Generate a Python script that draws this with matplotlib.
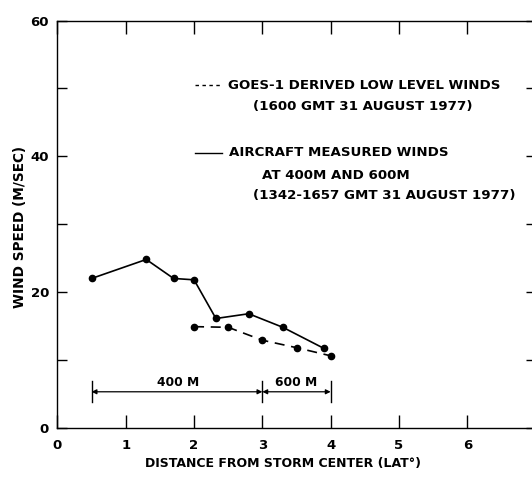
import matplotlib
matplotlib.use("Agg")
import matplotlib.pyplot as plt

# Data
goes_x = [2.0, 2.5, 3.0, 3.5, 4.0]
goes_y = [14.9, 14.8, 12.9, 11.8, 10.6]
air_x = [0.5, 1.3, 1.7, 2.0, 2.32, 2.8, 3.3, 3.9]
air_y = [22.0, 24.8, 22.0, 21.8, 16.1, 16.8, 14.8, 11.7]
x_ticks = [0, 1, 2, 3, 4, 5, 6, 7]
y_major = [0, 20, 40, 60]
y_minor = [10, 30, 50]
seg400 = [0.5, 3.0]
seg600 = [3.0, 4.0]

plt.rcParams['font.family'] = ['DejaVu Sans']
plt.rcParams['font.weight'] = 'bold'

fig = plt.figure(figsize=(5.32, 4.79), dpi=100)
ax = fig.add_axes([0.108, 0.107, 0.8987, 0.850])
ax.set_xlim(0, 7)
ax.set_ylim(0, 60)

ax.plot(air_x, air_y, color='black', lw=1.2, marker='o', ms=4.5, clip_on=False)
ax.plot(goes_x, goes_y, color='black', lw=1.2, ls=(0, (6, 4)), marker='o', ms=4.5, clip_on=False)

# range bars
ybar = 5.3
for seg in (seg400, seg600):
    ax.annotate('', xy=(seg[0], ybar), xytext=(seg[1], ybar),
                arrowprops=dict(arrowstyle='<|-|>', color='black', lw=0.9,
                                mutation_scale=7, shrinkA=0, shrinkB=0))
for xv in (seg400[0], seg400[1], seg600[1]):
    ax.plot([xv, xv], [3.8, 6.9], color='black', lw=1.0)
ax.text(1.76, 6.6, '400 M', ha='center', va='center', fontsize=8.8, fontweight='bold')
ax.text(3.49, 6.6, '600 M', ha='center', va='center', fontsize=8.8, fontweight='bold')

# legend text
fs = 9.6
ax.plot([2.01, 2.41], [50.5, 50.5], color='black', lw=1.0, ls=(0, (2.5, 2.5)))
ax.text(2.50, 50.5, 'GOES-1 DERIVED LOW LEVEL WINDS', ha='left', va='center', fontsize=fs, fontweight='bold')
ax.text(2.86, 47.3, '(1600 GMT 31 AUGUST 1977)', ha='left', va='center', fontsize=fs, fontweight='bold')
ax.plot([2.01, 2.41], [40.5, 40.5], color='black', lw=1.0)
ax.text(2.51, 40.5, 'AIRCRAFT MEASURED WINDS', ha='left', va='center', fontsize=fs, fontweight='bold')
ax.text(2.99, 37.1, 'AT 400M AND 600M', ha='left', va='center', fontsize=fs, fontweight='bold')
ax.text(2.86, 34.2, '(1342-1657 GMT 31 AUGUST 1977)', ha='left', va='center', fontsize=fs, fontweight='bold')

# ticks
ax.set_xticks(x_ticks)
ax.set_xticklabels([str(v) for v in x_ticks], fontsize=9.5, fontweight='bold')
ax.set_yticks(y_major)
ax.set_yticklabels([str(v) for v in y_major], fontsize=9.5, fontweight='bold')
ax.set_yticks(y_minor, minor=True)
ax.tick_params(axis='x', which='both', direction='in', length=9.5, width=1.0, top=True, pad=8)
ax.tick_params(axis='y', which='both', direction='in', length=7.5, width=1.0, right=True, pad=6)

for s in ax.spines.values():
    s.set_linewidth(1.0)

ax.set_xlabel('DISTANCE FROM STORM CENTER (LAT\u00b0)', fontsize=9, fontweight='bold')
ax.xaxis.label.set_va('center')
ax.xaxis.set_label_coords(0.472, -0.087)
ax.set_ylabel('WIND SPEED (M/SEC)', fontsize=9.8, fontweight='bold')
ax.yaxis.label.set_va('center')
ax.yaxis.set_label_coords(-0.078, 0.493)

fig.savefig('out.png', dpi=100)
